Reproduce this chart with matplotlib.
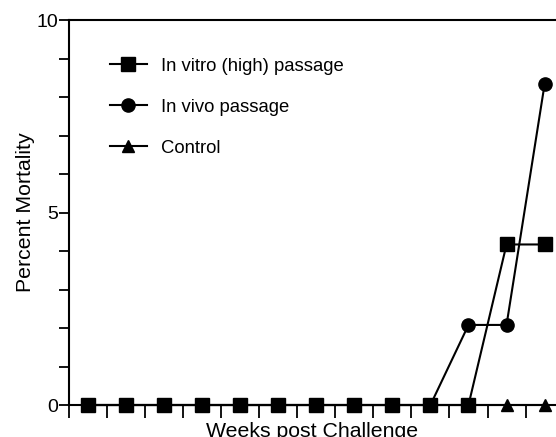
import matplotlib
matplotlib.use("Agg")
import matplotlib.pyplot as plt
import numpy as np

plt.rcParams['font.family'] = ['Liberation Sans', 'DejaVu Sans']

# weeks post challenge (index of each sample)
weeks = np.arange(13)
in_vitro = [0, 0, 0, 0, 0, 0, 0, 0, 0, 0, 0, 4.17, 4.17]
in_vivo = [0, 0, 0, 0, 0, 0, 0, 0, 0, 0, 2.08, 2.08, 8.33]
control = [0, 0, 0, 0, 0, 0, 0, 0, 0, 0, 0, 0, 0]

fig = plt.figure(figsize=(5.56, 4.37), dpi=100)
ax = fig.add_axes([0.124, 0.0732, 0.876, 0.8810])

lw = 1.5
ax.plot(weeks, control, '-^', color='black', lw=lw, ms=8.5, clip_on=False,
        label='Control', zorder=3)
ax.plot(weeks, in_vivo, '-o', color='black', lw=lw, ms=9.5, clip_on=False,
        label='In vivo passage', zorder=4)
ax.plot(weeks, in_vitro, '-s', color='black', lw=lw, ms=9.5, clip_on=False,
        label='In vitro (high) passage', zorder=5)

ax.set_xlim(-0.5, 12.3)
ax.set_ylim(0, 10)

# y axis: labelled at 0, 5, 10 with unlabelled minor ticks
ax.set_yticks([0, 5, 10])
ax.set_yticks(np.arange(0, 11), minor=True)
ax.tick_params(axis='y', which='both', direction='out', length=7, width=1.3,
               labelsize=14, pad=1)

# x axis: ticks between the points, no labels
ax.set_xticks(np.arange(-0.5, 12.5, 1))
ax.set_xticklabels([])
ax.tick_params(axis='x', direction='out', length=9, width=1.3)

for s in ['left', 'bottom', 'top']:
    ax.spines[s].set_linewidth(1.5)
ax.spines['right'].set_visible(False)

ax.set_ylabel('Percent Mortality', fontsize=15.3, labelpad=1)
ax.set_xlabel('Weeks post Challenge', fontsize=15.3, labelpad=0)

h, l = ax.get_legend_handles_labels()
ax.legend(h[::-1], l[::-1], loc='upper left', bbox_to_anchor=(0.05, 0.945),
          frameon=False, fontsize=13.3, labelspacing=1.3, handlelength=2.0,
          handletextpad=0.75)

fig.savefig('out.png', dpi=100)
